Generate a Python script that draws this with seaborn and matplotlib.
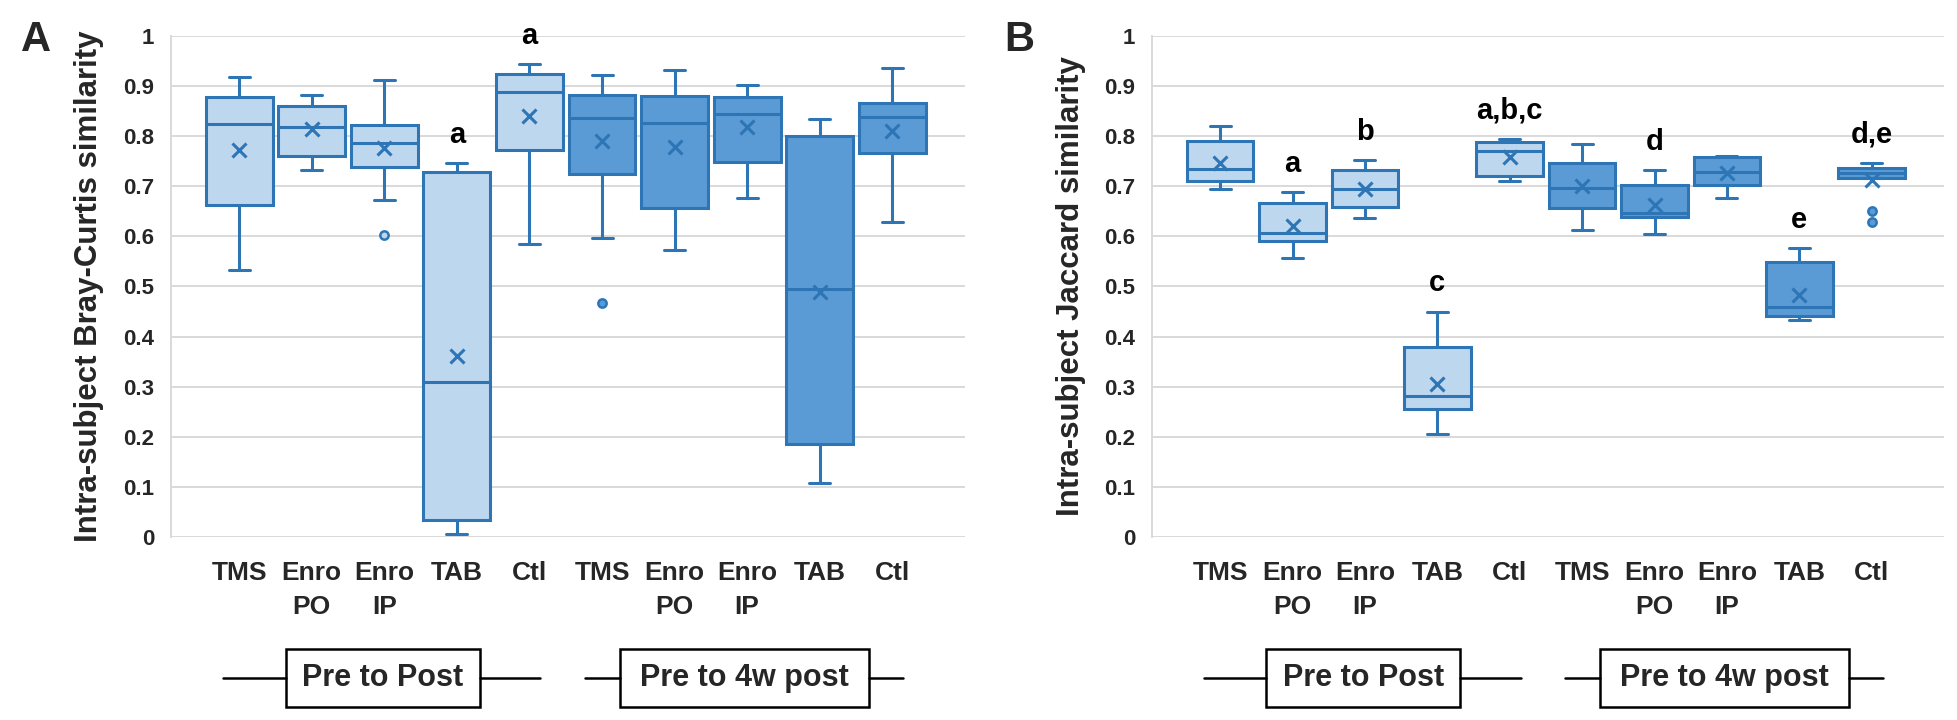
import numpy as np
import pandas as pd
import matplotlib
matplotlib.use("Agg")
import matplotlib.pyplot as plt
import matplotlib.transforms as mtransforms
from matplotlib.patches import Rectangle
import seaborn as sns

# Excel-style boxplot, 2 panels (Bray-Curtis / Jaccard), stats

groups = ["TMS", "Enro\nPO", "Enro\nIP", "TAB", "Ctl", "TMS", "Enro\nPO", "Enro\nIP", "TAB", "Ctl"]
periods = ["Pre to Post", "Pre to 4w post"]

# panel A - Bray-Curtis
bc_whislo = [0.532, 0.732, 0.672, 0.006, 0.584, 0.597, 0.572, 0.676, 0.108, 0.628]
bc_q1 = [0.663, 0.760, 0.738, 0.033, 0.772, 0.725, 0.657, 0.749, 0.186, 0.767]
bc_med = [0.824, 0.819, 0.786, 0.310, 0.888, 0.836, 0.827, 0.844, 0.495, 0.839]
bc_q3 = [0.878, 0.861, 0.823, 0.729, 0.925, 0.883, 0.881, 0.879, 0.801, 0.867]
bc_whishi = [0.918, 0.883, 0.913, 0.747, 0.945, 0.922, 0.932, 0.902, 0.835, 0.937]
bc_mean = [0.772, 0.815, 0.777, 0.362, 0.841, 0.791, 0.779, 0.819, 0.489, 0.811]
bc_fliers = [[], [], [0.603], [], [], [0.467], [], [], [], []]
bc_letters = ["", "", "", "a", "a", "", "", "", "", ""]

# panel B - Jaccard
jc_whislo = [0.694, 0.557, 0.636, 0.206, 0.711, 0.612, 0.604, 0.676, 0.433, 0.717]
jc_q1 = [0.710, 0.591, 0.658, 0.255, 0.721, 0.656, 0.638, 0.703, 0.442, 0.717]
jc_med = [0.735, 0.606, 0.694, 0.282, 0.770, 0.696, 0.647, 0.729, 0.460, 0.727]
jc_q3 = [0.791, 0.666, 0.732, 0.380, 0.789, 0.747, 0.702, 0.758, 0.549, 0.736]
jc_whishi = [0.820, 0.688, 0.752, 0.450, 0.795, 0.785, 0.733, 0.760, 0.577, 0.747]
jc_mean = [0.746, 0.621, 0.694, 0.306, 0.759, 0.701, 0.662, 0.726, 0.484, 0.712]
jc_fliers = [[], [], [], [], [], [], [], [], [], [0.650, 0.628]]
jc_letters = ["", "a", "b", "c", "a,b,c", "", "d", "", "e", "d,e"]

period_of = [periods[0]] * 5 + [periods[1]] * 5

sns.set_theme(style="white")
plt.rcParams["font.family"] = ["Liberation Sans", "DejaVu Sans"]

EDGE = "#2E75B6"
LIGHT = "#BDD7EE"
DARK = "#5B9BD5"
GRID = "#D9D9D9"


def make_stats(whislo, q1, med, q3, whishi, mean, fliers):
    df = pd.DataFrame({"whislo": whislo, "q1": q1, "med": med, "q3": q3,
                       "whishi": whishi, "mean": mean})
    stats = []
    for i, row in df.iterrows():
        d = row.to_dict()
        d["fliers"] = np.array(fliers[i])
        stats.append(d)
    return stats


def draw_panel(ax, stats, letters, ylabel):
    pos = np.arange(len(stats))
    bp = ax.bxp(stats, positions=pos, widths=0.92, capwidths=0.29,
                patch_artist=True, showmeans=True, showfliers=True,
                boxprops=dict(edgecolor=EDGE, linewidth=2.2),
                whiskerprops=dict(color=EDGE, linewidth=2.2),
                capprops=dict(color=EDGE, linewidth=2.2),
                medianprops=dict(color=EDGE, linewidth=2.2),
                meanprops=dict(marker="x", markeredgecolor=EDGE, markersize=10,
                               markeredgewidth=2.2),
                flierprops=dict(marker="o", markeredgecolor=EDGE, markersize=6,
                                markeredgewidth=1.8))
    for i, patch in enumerate(bp["boxes"]):
        fill = LIGHT if period_of[i] == periods[0] else DARK
        patch.set_facecolor(fill)
        bp["fliers"][i].set_markerfacecolor(fill)

    for i, lab in enumerate(letters):
        if lab:
            ax.text(pos[i], stats[i]["whishi"] + 0.04, lab, ha="center",
                    va="baseline", fontsize=21, fontweight="bold", color="black")

    ax.set_xlim(-0.94, 10.0)
    ax.set_ylim(0, 1)
    ax.set_yticks(np.arange(0, 1.01, 0.1))
    ax.set_yticklabels(["0"] + [f"{v:.1f}" for v in np.arange(0.1, 0.95, 0.1)] + ["1"],
                       fontsize=16, fontweight="bold")
    ax.set_xticks(pos)
    ax.set_xticklabels(groups, fontsize=19, fontweight="bold")
    for t in ax.get_xticklabels():
        t.set_linespacing(1.55)
    ax.tick_params(axis="x", length=0, pad=17)
    ax.tick_params(axis="y", length=0, pad=12)
    ax.yaxis.grid(True, color=GRID, linewidth=1.4)
    ax.xaxis.grid(False)
    ax.set_axisbelow(True)
    for s in ["top", "right", "bottom"]:
        ax.spines[s].set_visible(False)
    ax.spines["left"].set_color(GRID)
    ax.spines["left"].set_linewidth(1.4)

    ax.set_ylabel(ylabel, fontsize=22.5, fontweight="bold")
    ax.yaxis.set_label_coords(-0.084, 0.5)

    # group brackets under the tick labels
    tr = mtransforms.blended_transform_factory(ax.transData, ax.transAxes)
    brackets = [(-0.22, 0.64, 3.32, 4.15), (4.76, 5.25, 8.68, 9.15)]
    ymid, ylo, yhi = -0.281, -0.339, -0.224
    for (x0, b0, b1, x1), name in zip(brackets, periods):
        ax.plot([x0, b0], [ymid, ymid], color="black", lw=1.8, transform=tr, clip_on=False)
        ax.plot([b1, x1], [ymid, ymid], color="black", lw=1.8, transform=tr, clip_on=False)
        ax.add_patch(Rectangle((b0, ylo), b1 - b0, yhi - ylo, transform=tr,
                               facecolor="white", edgecolor="black", lw=1.8, clip_on=False))
        ax.text((b0 + b1) / 2, ymid, name, transform=tr, ha="center", va="center",
                fontsize=22, fontweight="bold")


fig = plt.figure(figsize=(19.58, 7.2), dpi=100)
ax1 = fig.add_axes([0.0873, 0.2542, 0.4055, 0.6958])
ax2 = fig.add_axes([0.5884, 0.2542, 0.4045, 0.6958])

draw_panel(ax1, make_stats(bc_whislo, bc_q1, bc_med, bc_q3, bc_whishi, bc_mean, bc_fliers),
           bc_letters, "Intra-subject Bray-Curtis similarity")
draw_panel(ax2, make_stats(jc_whislo, jc_q1, jc_med, jc_q3, jc_whishi, jc_mean, jc_fliers),
           jc_letters, "Intra-subject Jaccard similarity")

fig.text(0.0184, 0.944, "A", fontsize=30, fontweight="bold", ha="center", va="center")
fig.text(0.5205, 0.944, "B", fontsize=30, fontweight="bold", ha="center", va="center")

fig.savefig("out.png", dpi=100, facecolor="white")
